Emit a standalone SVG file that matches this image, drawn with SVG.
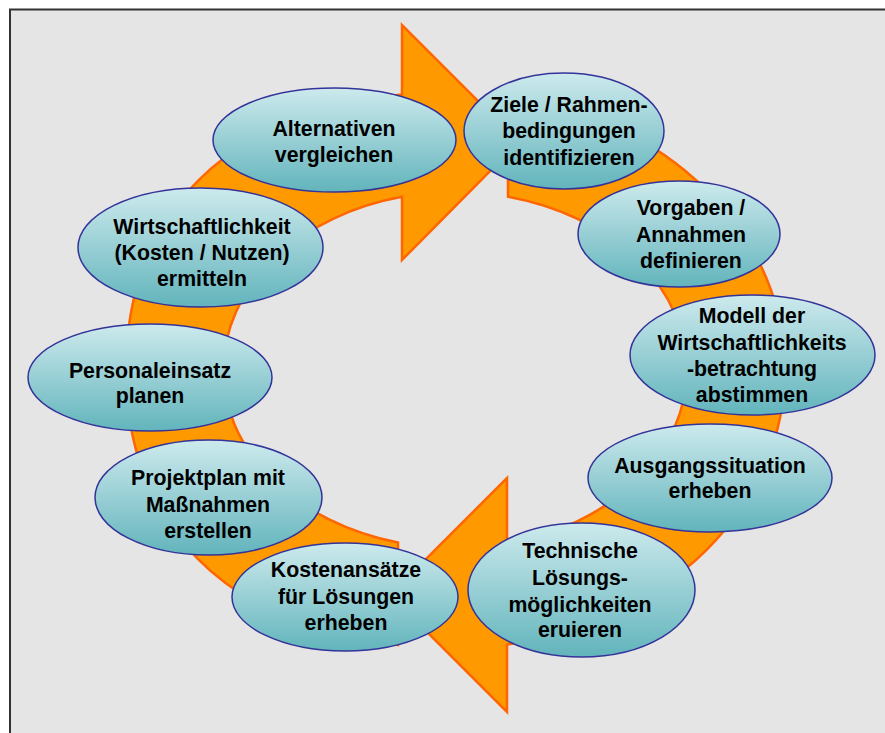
<svg xmlns="http://www.w3.org/2000/svg" width="885" height="733" viewBox="0 0 885 733">
  <defs>
    <linearGradient id="nodeFill" x1="0" y1="0" x2="0" y2="1">
      <stop offset="0" stop-color="#cdeaed"/>
      <stop offset="1" stop-color="#62b4bc"/>
    </linearGradient>
    <style>
      .ring { fill: #ff9900; stroke: #ff6600; stroke-width: 2.5; stroke-linejoin: miter; }
      .node ellipse { fill: url(#nodeFill); stroke: #333399; stroke-width: 1.5; }
      .node text { font-family: "Liberation Sans", Arial, sans-serif; font-weight: bold; font-size: 21.3px; fill: #000; text-anchor: middle; }
    </style>
  </defs>

  <!-- page and frame -->
  <rect x="0" y="0" width="885" height="733" fill="#ffffff"/>
  <rect x="10" y="9.5" width="890" height="740" fill="#e5e5e5" stroke="#333333" stroke-width="2"/>

  <!-- circular arrows: right half points left at the bottom, left half points right at the top -->
  <g id="connectors">
    <path class="ring" d="M508,95.6 A330,278 0 0 1 507,644.5 L507,712 L390,595 L507,478 L507,543.5 A232,178 0 0 0 508,196.8 Z"/>
    <path class="ring" d="M398,645.1 C227.4,627 126,525.8 126,370 C126,212.9 229.1,111.3 402,94.5 L402,25 L519,142 L402,260 L402,196.8 A232,178 0 0 0 398,542.5 Z"/>
  </g>

  <g id="node-alternativen" class="node">
    <ellipse cx="334.5" cy="140" rx="121.5" ry="52"/>
    <text x="334" y="136">Alternativen</text>
    <text x="334" y="162">vergleichen</text>
  </g>

  <g id="node-ziele" class="node">
    <ellipse cx="564" cy="131" rx="100" ry="58"/>
    <text x="569" y="112">Ziele / Rahmen-</text>
    <text x="569" y="138">bedingungen</text>
    <text x="569" y="165">identifizieren</text>
  </g>

  <g id="node-vorgaben" class="node">
    <ellipse cx="679" cy="234" rx="101" ry="53"/>
    <text x="691" y="215">Vorgaben /</text>
    <text x="691" y="242">Annahmen</text>
    <text x="691" y="268">definieren</text>
  </g>

  <g id="node-modell" class="node">
    <ellipse cx="752.5" cy="355" rx="122.5" ry="60"/>
    <text x="752" y="323">Modell der</text>
    <text x="752" y="350">Wirtschaftlichkeits</text>
    <text x="752" y="376">-betrachtung</text>
    <text x="752" y="402">abstimmen</text>
  </g>

  <g id="node-ausgangssituation" class="node">
    <ellipse cx="710" cy="478" rx="122" ry="54"/>
    <text x="710" y="473">Ausgangssituation</text>
    <text x="710" y="498">erheben</text>
  </g>

  <g id="node-technische" class="node">
    <ellipse cx="581.5" cy="590" rx="113.5" ry="67"/>
    <text x="580" y="558">Technische</text>
    <text x="580" y="585">Lösungs-</text>
    <text x="580" y="612">möglichkeiten</text>
    <text x="580" y="637">eruieren</text>
  </g>

  <g id="node-kostenansaetze" class="node">
    <ellipse cx="345" cy="597" rx="113" ry="54"/>
    <text x="346" y="577">Kostenansätze</text>
    <text x="346" y="604">für Lösungen</text>
    <text x="346" y="630">erheben</text>
  </g>

  <g id="node-projektplan" class="node">
    <ellipse cx="208.5" cy="497.5" rx="113.5" ry="57.5"/>
    <text x="208" y="485">Projektplan mit</text>
    <text x="208" y="512">Maßnahmen</text>
    <text x="208" y="538">erstellen</text>
  </g>

  <g id="node-personaleinsatz" class="node">
    <ellipse cx="150" cy="377.5" rx="122" ry="53.5"/>
    <text x="150" y="378">Personaleinsatz</text>
    <text x="150" y="403">planen</text>
  </g>

  <g id="node-wirtschaftlichkeit" class="node">
    <ellipse cx="200.5" cy="247.5" rx="122.5" ry="59.5"/>
    <text x="202" y="234">Wirtschaftlichkeit</text>
    <text x="202" y="260">(Kosten / Nutzen)</text>
    <text x="202" y="286">ermitteln</text>
  </g>
</svg>
